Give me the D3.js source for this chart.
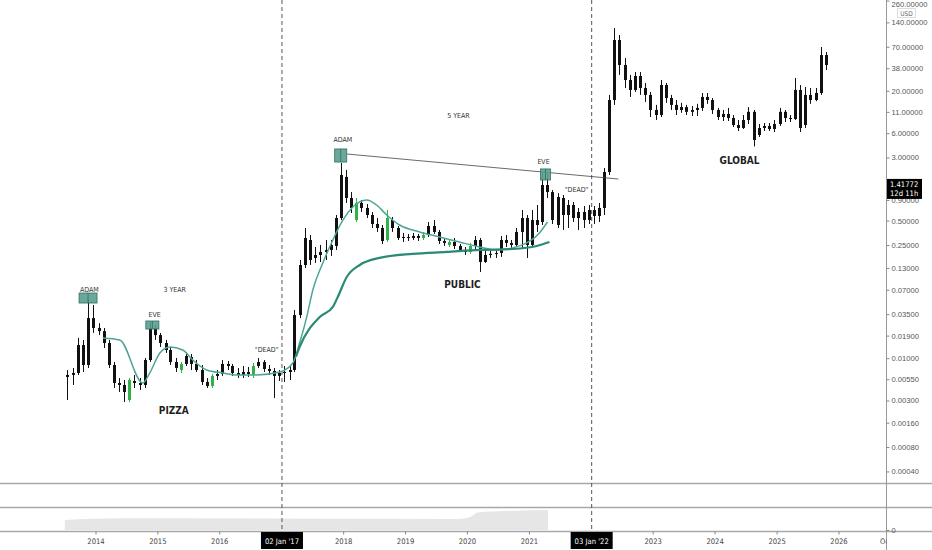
<!DOCTYPE html>
<html>
<head>
<meta charset="utf-8">
<script src="https://cdn.jsdelivr.net/npm/d3@7"></script>
<style>
  html, body { margin: 0; padding: 0; background: #fff; }
  svg { display: block; font-family: "DejaVu Sans Condensed", "DejaVu Sans", sans-serif; }
</style>
</head>
<body>
<div id="chart"></div>
<script>
// monthly candles [open, high, low, close], first month is Jul 2013
const ohlc2013 = [
  [0.00587, 0.00715, 0.00305, 0.00621], [0.00621, 0.00757, 0.00467, 0.00657],
  [0.00657, 0.0178, 0.00621, 0.01456], [0.01456, 0.0168, 0.00676, 0.00824],
  [0.00824, 0.0523, 0.00757, 0.0313], [0.0313, 0.0454, 0.0205, 0.0236]
];
const ohlc2014 = [
  [0.0236, 0.0271, 0.0193, 0.0216], [0.0216, 0.0236, 0.01337, 0.0154],
  [0.0154, 0.0168, 0.00757, 0.00824], [0.00824, 0.00898, 0.00429, 0.00494],
  [0.00494, 0.0057, 0.00383, 0.00467], [0.00467, 0.00538, 0.00288, 0.00383],
  [0.00305, 0.0057, 0.00288, 0.00538], [0.00523, 0.00621, 0.00429, 0.00494],
  [0.00494, 0.0057, 0.00405, 0.00467], [0.00467, 0.01006, 0.00429, 0.0095],
  [0.0095, 0.0279, 0.00898, 0.0236], [0.0236, 0.0257, 0.0168, 0.0193]
];
const ohlc2015 = [
  [0.0193, 0.0205, 0.01375, 0.0154], [0.0154, 0.0168, 0.0116, 0.01263],
  [0.01263, 0.01375, 0.00824, 0.00898], [0.00898, 0.01006, 0.00676, 0.00757],
  [0.00715, 0.00898, 0.00657, 0.00849], [0.00849, 0.01193, 0.00801, 0.01065],
  [0.01035, 0.01128, 0.00715, 0.00849], [0.00849, 0.0095, 0.00676, 0.00715],
  [0.00715, 0.00824, 0.00467, 0.00509], [0.00509, 0.0057, 0.00429, 0.00454],
  [0.00454, 0.00639, 0.00429, 0.00604], [0.00604, 0.00715, 0.00538, 0.00639]
];
const ohlc2016 = [
  [0.00639, 0.0095, 0.00604, 0.00849], [0.00849, 0.00924, 0.00715, 0.00801],
  [0.00801, 0.00849, 0.00604, 0.00657], [0.00657, 0.00757, 0.0057, 0.00621],
  [0.00621, 0.00801, 0.0057, 0.00676], [0.00676, 0.00779, 0.00587, 0.00639],
  [0.00621, 0.00873, 0.0057, 0.00801], [0.00801, 0.01006, 0.00757, 0.00898],
  [0.00898, 0.0095, 0.00676, 0.00736], [0.00736, 0.00824, 0.00621, 0.00695],
  [0.00695, 0.00757, 0.00323, 0.00604], [0.00604, 0.00715, 0.00523, 0.00657]
];
const ohlc2017 = [
  [0.00657, 0.00801, 0.00509, 0.00676], [0.00676, 0.00824, 0.00538, 0.00715],
  [0.00715, 0.0394, 0.00676, 0.0341], [0.0341, 0.163, 0.0313, 0.1415],
  [0.1415, 0.405, 0.13, 0.305], [0.288, 0.332, 0.1415, 0.163],
  [0.173, 0.236, 0.15, 0.188], [0.188, 0.25, 0.154, 0.205],
  [0.205, 0.288, 0.163, 0.217], [0.217, 0.288, 0.183, 0.25],
  [0.243, 0.586, 0.217, 0.538], [0.538, 2.57, 0.508, 1.83]
];
const ohlc2018 = [
  [1.73, 2.11, 0.825, 0.95], [0.95, 1.125, 0.62, 0.715],
  [0.508, 0.95, 0.48, 0.825], [0.825, 0.898, 0.638, 0.715],
  [0.715, 0.80, 0.538, 0.586], [0.586, 0.638, 0.405, 0.454],
  [0.454, 0.538, 0.362, 0.405], [0.405, 0.441, 0.257, 0.28],
  [0.288, 0.676, 0.272, 0.538], [0.508, 0.554, 0.362, 0.405],
  [0.405, 0.429, 0.288, 0.305], [0.305, 0.352, 0.272, 0.314]
];
const ohlc2019 = [
  [0.314, 0.342, 0.28, 0.305], [0.305, 0.352, 0.288, 0.323],
  [0.323, 0.342, 0.28, 0.305], [0.305, 0.362, 0.288, 0.332],
  [0.332, 0.48, 0.314, 0.429], [0.429, 0.508, 0.342, 0.362],
  [0.362, 0.383, 0.257, 0.28], [0.28, 0.305, 0.243, 0.265],
  [0.25, 0.288, 0.236, 0.272], [0.272, 0.305, 0.223, 0.243],
  [0.243, 0.257, 0.205, 0.217], [0.217, 0.236, 0.188, 0.205]
];
const ohlc2020 = [
  [0.205, 0.265, 0.194, 0.243], [0.243, 0.323, 0.223, 0.288],
  [0.288, 0.305, 0.116, 0.154], [0.154, 0.217, 0.15, 0.188],
  [0.188, 0.217, 0.173, 0.194], [0.194, 0.223, 0.173, 0.199],
  [0.199, 0.323, 0.178, 0.288], [0.288, 0.332, 0.236, 0.265],
  [0.265, 0.288, 0.23, 0.25], [0.25, 0.405, 0.236, 0.362],
  [0.362, 0.676, 0.23, 0.538], [0.538, 0.586, 0.173, 0.25]
];
const ohlc2021 = [
  [0.25, 0.676, 0.243, 0.508], [0.508, 0.779, 0.362, 0.441],
  [0.48, 1.99, 0.441, 1.375], [1.375, 1.99, 0.95, 1.125],
  [1.125, 1.19, 0.454, 0.508], [0.441, 1.09, 0.405, 0.978],
  [0.95, 1.035, 0.383, 0.586], [0.586, 0.898, 0.405, 0.779],
  [0.779, 0.848, 0.48, 0.538], [0.538, 0.715, 0.383, 0.638],
  [0.638, 0.757, 0.405, 0.508], [0.508, 0.779, 0.454, 0.676]
];
const ohlc2022 = [
  [0.676, 0.757, 0.454, 0.57], [0.57, 0.825, 0.48, 0.715],
  [0.715, 2.23, 0.586, 1.99], [1.99, 17.8, 1.83, 15.4],
  [15.4, 119, 13.4, 84.8], [84.8, 97.8, 31.4, 41.7],
  [41.7, 50.8, 21.7, 27.2], [27.2, 31.4, 16.8, 20.5],
  [20.5, 34.1, 19.4, 30.5], [30.5, 34.1, 17.8, 21.7],
  [21.7, 25.0, 14.6, 17.8], [17.8, 19.4, 9.5, 11.6]
];
const ohlc2023 = [
  [11.6, 13.4, 8.73, 10.05], [10.05, 27.2, 9.5, 23.6],
  [23.6, 25.0, 14.2, 16.3], [16.3, 17.8, 11.6, 13.4],
  [13.4, 15.4, 10.05, 11.6], [11.6, 14.2, 10.7, 12.6],
  [12.6, 13.4, 10.05, 11.0], [11.0, 13.0, 9.77, 11.6],
  [11.6, 13.8, 9.77, 12.3], [12.3, 18.8, 11.3, 16.8],
  [16.8, 18.8, 13.8, 15.4], [15.4, 16.3, 10.35, 11.6]
];
const ohlc2024 = [
  [11.6, 12.3, 8.73, 9.5], [9.5, 11.6, 8.48, 10.35],
  [10.35, 12.3, 8.48, 9.23], [9.23, 10.05, 7.15, 7.57],
  [7.57, 8.73, 6.38, 6.95], [6.95, 10.05, 6.76, 8.73],
  [8.73, 12.6, 7.79, 11.0], [11.0, 11.6, 4.12, 4.94],
  [5.70, 7.79, 5.38, 6.95], [6.95, 8.01, 6.38, 7.36],
  [7.36, 8.01, 6.38, 6.76], [6.76, 8.73, 6.2, 7.79]
];
const ohlc2025 = [
  [7.79, 12.3, 7.36, 11.0], [11.0, 11.6, 8.24, 9.23],
  [9.23, 10.05, 8.24, 8.97], [8.97, 28.8, 8.73, 20.5],
  [20.5, 23.6, 6.2, 6.95], [7.57, 22.3, 6.95, 17.8],
  [17.8, 21.7, 13.8, 15.4], [15.4, 21.7, 14.9, 18.8],
  [18.8, 69.5, 17.8, 55.3], [55.3, 60.3, 36.1, 41.7]
];
const greenMonths = ["2014-07", "2015-05", "2015-11", "2016-07", "2018-03", "2018-09", "2019-04", "2019-09", "2020-01"];

// moving averages
const shortMA = [
  ["2014-02-11", 0.0178], ["2014-05-21", 0.0168], ["2014-10-04", 0.00494], ["2014-11-14", 0.00657],
  ["2015-01-13", 0.0116], ["2015-03-12", 0.01375], ["2015-05-28", 0.01263], ["2015-07-26", 0.0095],
  ["2015-10-16", 0.00715], ["2016-01-19", 0.00657], ["2016-04-10", 0.00621], ["2016-08-07", 0.00621],
  ["2016-12-20", 0.00676], ["2017-03-07", 0.00873], ["2017-04-16", 0.0154], ["2017-05-28", 0.0322],
  ["2017-07-03", 0.0695], ["2017-08-31", 0.15], ["2017-10-29", 0.288], ["2017-12-27", 0.508],
  ["2018-02-24", 0.736], ["2018-05-17", 0.898], ["2018-07-14", 0.779], ["2018-09-12", 0.586],
  ["2018-11-27", 0.441], ["2019-03-25", 0.362], ["2019-07-20", 0.314], ["2019-11-15", 0.272],
  ["2020-03-13", 0.236], ["2020-06-21", 0.217], ["2020-09-24", 0.23], ["2020-12-15", 0.265],
  ["2021-03-01", 0.352], ["2021-04-17", 0.48]
];
const longMA = [
  ["2017-03-25", 0.01035], ["2017-04-16", 0.01375], ["2017-08-13", 0.0322], ["2017-10-29", 0.0429],
  ["2017-11-27", 0.0569], ["2018-01-19", 0.1006], ["2018-04-06", 0.1415], ["2018-08-01", 0.173],
  ["2019-02-12", 0.194], ["2019-08-31", 0.205], ["2020-03-13", 0.217], ["2020-09-24", 0.223],
  ["2021-02-13", 0.243], ["2021-04-29", 0.272]
];
// lower pane grey area
const lowerArea = [
  ["2013-07-01", 45], ["2014-06-01", 53], ["2019-11-01", 50], ["2020-01-15", 58],
  ["2020-03-01", 80], ["2020-06-01", 84], ["2021-04-20", 91]
];

const priceTicks = [260, 140, 70, 38, 20, 11, 6, 3, 0.9, 0.5, 0.25, 0.13, 0.07, 0.035, 0.019, 0.01, 0.0055, 0.003, 0.0016, 0.0008, 0.0004];
const yearTicks = [2014, 2015, 2016, 2018, 2019, 2020, 2021, 2023, 2024, 2025, 2026];
const markedDates = [["2017-01-02", "02 Jan '17"], ["2022-01-03", "03 Jan '22"]];
const lastPrice = 1.41772;
const lastPriceTimer = "12d 11h";

const noteTexts = [
  ["ADAM", "2013-11-23", 0.0656, 7], ["3 YEAR", "2015-04-10", 0.0656, 7],
  ["EVE", "2014-12-13", 0.0323, 7], ["PIZZA", "2015-04-05", 0.00205, 10],
  ["\"DEAD\"", "2016-10-04", 0.01193, 7], ["ADAM", "2017-12-27", 4.67, 7],
  ["5 YEAR", "2019-11-09", 9.23, 7], ["EVE", "2021-03-25", 2.50, 7],
  ["\"DEAD\"", "2021-10-06", 1.127, 7], ["PUBLIC", "2019-12-03", 0.0736, 10],
  ["GLOBAL", "2024-05-24", 2.50, 10]
];
const noteBoxes = [
  ["2013-09-23", "2014-01-07", 0.0638, 0.048],
  ["2014-10-22", "2015-01-07", 0.0288, 0.0229],
  ["2017-11-09", "2018-01-19", 3.83, 2.64],
  ["2021-03-07", "2021-05-05", 2.17, 1.585]
];
const trendLine = [["2018-01-19", 3.32], ["2022-06-10", 1.63]];

const W = 932, H = 550;
const paneBottom = 483.5, axisX = 886.5;
const parse = d3.utcParse("%Y-%m-%d");
const fmtMonth = d3.utcFormat("%Y-%m");

const svg = d3.select("#chart").append("svg").attr("width", W).attr("height", H);

const x = d3.scaleUtc().domain([new Date(Date.UTC(2014, 0, 1)), new Date(Date.UTC(2026, 0, 1))]).range([96, 839]);
const y = d3.scaleLog().domain([0.001, 100]).range([439.2, 34.2]);
const yLow = d3.scaleLinear().domain([0, 100]).range([530, 508]);

svg.append("defs").append("clipPath").attr("id", "pane")
  .append("rect").attr("x", 0).attr("y", 0).attr("width", axisX).attr("height", paneBottom);
svg.select("defs").append("clipPath").attr("id", "left")
  .append("rect").attr("x", 0).attr("y", 0).attr("width", axisX).attr("height", H);

const candles = [ohlc2013, ohlc2014, ohlc2015, ohlc2016, ohlc2017, ohlc2018, ohlc2019,
  ohlc2020, ohlc2021, ohlc2022, ohlc2023, ohlc2024, ohlc2025].flat().map((r, i) => {
  const d = new Date(Date.UTC(2013, 6 + i, 1));
  return { key: fmtMonth(d), mid: new Date(Date.UTC(2013, 6 + i, 16)), o: r[0], h: r[1], l: r[2], c: r[3] };
});

// lower pane area
svg.append("path")
  .datum(lowerArea)
  .attr("fill", "#e6e6e6")
  .attr("d", d3.area().curve(d3.curveMonotoneX)
    .x(d => x(parse(d[0]))).y0(yLow(0)).y1(d => yLow(d[1])));

// pane separators
[483.5, 507.5, 531.5].forEach(v => {
  svg.append("line").attr("x1", 0).attr("x2", W).attr("y1", v).attr("y2", v)
    .attr("stroke", "#a8a8a8").attr("stroke-width", 1.3);
});

// dashed vertical markers
svg.selectAll(".mark-line")
  .data(markedDates)
  .enter()
  .append("line")
  .attr("class", "mark-line")
  .attr("x1", d => x(parse(d[0]))).attr("x2", d => x(parse(d[0])))
  .attr("y1", 0).attr("y2", 532)
  .attr("stroke", "#555").attr("stroke-width", 1).attr("stroke-dasharray", "4,3");

const plot = svg.append("g").attr("clip-path", "url(#pane)");

// candles
const isGreen = d => greenMonths.includes(d.key);
const bar = plot.selectAll(".candle").data(candles).enter().append("g").attr("class", "candle");
bar.append("line")
  .attr("x1", d => Math.round(x(d.mid)) + 0.5).attr("x2", d => Math.round(x(d.mid)) + 0.5)
  .attr("y1", d => y(d.h)).attr("y2", d => y(d.l))
  .attr("stroke", d => isGreen(d) ? "#2fb24a" : "#111").attr("stroke-width", 1);
bar.append("rect")
  .attr("x", d => Math.round(x(d.mid)) - 1)
  .attr("width", 3)
  .attr("y", d => y(Math.max(d.o, d.c)))
  .attr("height", d => Math.max(1, y(Math.min(d.o, d.c)) - y(Math.max(d.o, d.c))))
  .attr("fill", d => isGreen(d) ? "#2fb24a" : "#111");

// moving averages
const maLine = d3.line().curve(d3.curveMonotoneX).x(d => x(parse(d[0]))).y(d => y(d[1]));
plot.append("path").datum(shortMA).attr("d", maLine)
  .attr("fill", "none").attr("stroke", "#4fa595").attr("stroke-width", 1.5);
plot.append("path").datum(longMA).attr("d", maLine)
  .attr("fill", "none").attr("stroke", "#2a8a75").attr("stroke-width", 2.2);

// trend line
plot.append("line")
  .attr("x1", x(parse(trendLine[0][0]))).attr("y1", y(trendLine[0][1]))
  .attr("x2", x(parse(trendLine[1][0]))).attr("y2", y(trendLine[1][1]))
  .attr("stroke", "#444").attr("stroke-width", 0.8);

// note boxes
noteBoxes.forEach(b => {
  const x0 = x(parse(b[0])), x1 = x(parse(b[1]));
  const y0 = y(b[2]), y1 = y(b[3]);
  plot.append("rect").attr("x", x0).attr("y", y0).attr("width", x1 - x0).attr("height", y1 - y0)
    .attr("fill", "#5a9e90").attr("fill-opacity", 0.9).attr("stroke", "#2f6f62").attr("stroke-width", 0.8);
  plot.append("line").attr("x1", (x0 + x1) / 2).attr("x2", (x0 + x1) / 2).attr("y1", y0).attr("y2", y1)
    .attr("stroke", "#2f6f62").attr("stroke-width", 0.8);
});

// note texts
plot.selectAll(".note")
  .data(noteTexts)
  .enter()
  .append("text")
  .attr("class", "note")
  .attr("x", d => x(parse(d[1])))
  .attr("y", d => y(d[2]))
  .attr("text-anchor", "middle")
  .style("font-size", d => d[3] + "px")
  .style("font-weight", d => d[3] > 8 ? "600" : "normal")
  .style("fill", d => d[3] > 8 ? "#1e1e1e" : "#333")
  .text(d => d[0]);

// right price axis
svg.append("line").attr("x1", axisX).attr("x2", axisX).attr("y1", 0).attr("y2", H)
  .attr("stroke", "#999").attr("stroke-width", 1);
const yAxis = svg.append("g")
  .attr("transform", `translate(${axisX},0)`)
  .call(d3.axisRight(y).tickValues(priceTicks).tickSize(3).tickPadding(2).tickFormat(d => d.toFixed(5)));
yAxis.select(".domain").remove();
yAxis.selectAll("line").attr("stroke", "#888");
yAxis.selectAll("text").style("font-size", "7.6px").style("fill", "#555").style("font-family", "inherit");
// topmost label sits at the very edge; keep it readable
yAxis.selectAll(".tick").filter(d => d === 260).select("text").attr("dy", "0.75em");

// lower pane zero
const lowAxis = svg.append("g")
  .attr("transform", `translate(${axisX},0)`)
  .call(d3.axisRight(yLow).tickValues([0]).tickSize(3).tickPadding(2));
lowAxis.select(".domain").remove();
lowAxis.selectAll("line").attr("stroke", "#888");
lowAxis.selectAll("text").style("font-size", "7.6px").style("fill", "#555").style("font-family", "inherit");

// USD unit
svg.append("rect").attr("x", 897.5).attr("y", 8.5).attr("width", 18).attr("height", 9)
  .attr("fill", "#fff").attr("stroke", "#ddd");
svg.append("text").attr("x", 906.5).attr("y", 15.5).attr("text-anchor", "middle")
  .style("font-size", "6.5px").style("fill", "#666").text("USD");

// last price label
const lp = y(lastPrice);
svg.append("rect").attr("x", axisX + 0.5).attr("y", lp - 5).attr("width", 35).attr("height", 20).attr("fill", "#000");
svg.append("text").attr("x", axisX + 3.5).attr("y", lp + 2.7)
  .style("font-size", "7.6px").style("fill", "#fff").text(lastPrice.toFixed(5));
svg.append("text").attr("x", axisX + 3.5).attr("y", lp + 11.7)
  .style("font-size", "7.6px").style("fill", "#fff").text(lastPriceTimer);

// time axis
const xAxis = svg.append("g").attr("clip-path", "url(#left)");
yearTicks.forEach(yr => {
  const px = x(new Date(Date.UTC(yr, 0, 1)));
  xAxis.append("line").attr("x1", px).attr("x2", px).attr("y1", 531.5).attr("y2", 534.5).attr("stroke", "#888");
  xAxis.append("text").attr("x", px).attr("y", 544).attr("text-anchor", "middle")
    .style("font-size", "7.6px").style("fill", "#444").text(yr);
});
xAxis.append("text").attr("x", 880).attr("y", 544)
  .style("font-size", "7.6px").style("fill", "#444").text("Oct");

markedDates.forEach(m => {
  const px = x(parse(m[0]));
  svg.append("rect").attr("x", px - 21).attr("y", 532).attr("width", 42).attr("height", 17).attr("fill", "#000");
  svg.append("text").attr("x", px).attr("y", 543.5).attr("text-anchor", "middle")
    .style("font-size", "7.6px").style("fill", "#fff").text(m[1]);
});
</script>
</body>
</html>
